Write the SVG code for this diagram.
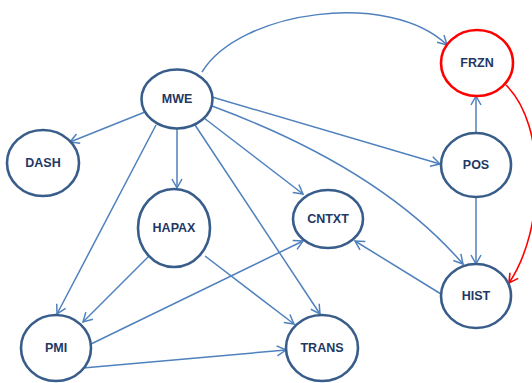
<svg xmlns="http://www.w3.org/2000/svg" width="532" height="383" viewBox="0 0 532 383">
<style>
.n ellipse{fill:#fff;stroke:#385D8A;stroke-width:2.6}
.n.red ellipse{stroke:#FF0000}
.n text{font-family:"Liberation Sans",Arial,sans-serif;font-weight:bold;font-size:12.5px;fill:#1F3864;text-anchor:middle;dominant-baseline:central}
.e path{fill:none;stroke:#4F81BD;stroke-width:1.5;marker-end:url(#a)}
.e path.r{stroke:#FF0000;stroke-width:1.6;marker-end:url(#ar)}
</style>
<defs>
<marker id="a" markerUnits="userSpaceOnUse" markerWidth="12" markerHeight="12" refX="9" refY="5" orient="auto" overflow="visible">
<path d="M0,0 L9,5 L0,10" fill="none" stroke="#4F81BD" stroke-width="1.5"/>
</marker>
<marker id="ar" markerUnits="userSpaceOnUse" markerWidth="12" markerHeight="12" refX="9" refY="5" orient="auto" overflow="visible">
<path d="M0,0 L9,5 L0,10" fill="none" stroke="#FF0000" stroke-width="1.6"/>
</marker>
</defs>
<g id="edges" class="e">
<path d="M202,72 C240,10 390,-10 447,45"/>
<path d="M145,112 L70,142"/>
<path d="M177,128 L177,188"/>
<path d="M156,125 L57,314"/>
<path d="M149,256 L83,322"/>
<path d="M204,118 L303,194"/>
<path d="M195,125 L320,314"/>
<path d="M212,97 L440,164"/>
<path d="M212,106 Q380,168 463,264"/>
<path d="M476,133 L476,96"/>
<path d="M476,197 L476,264"/>
<path class="r" d="M506,85 C547,125 545,230 509,283"/>
<path d="M441,294 L355,241"/>
<path d="M91,344 L303,241"/>
<path d="M83,368 L286,350"/>
<path d="M205,256 L294,324"/>
</g>
<g id="MWE" class="n"><ellipse cx="177" cy="99" rx="35.5" ry="29.5"/><text x="177" y="99">MWE</text></g>
<g id="FRZN" class="n red"><ellipse cx="477" cy="63" rx="36" ry="33"/><text x="477" y="63">FRZN</text></g>
<g id="DASH" class="n"><ellipse cx="43" cy="163" rx="36" ry="33"/><text x="43" y="163">DASH</text></g>
<g id="HAPAX" class="n"><ellipse cx="174" cy="228" rx="36" ry="39"/><text x="174" y="228">HAPAX</text></g>
<g id="CNTXT" class="n"><ellipse cx="328" cy="219" rx="35" ry="29"/><text x="328" y="219">CNTXT</text></g>
<g id="POS" class="n"><ellipse cx="476" cy="165" rx="35" ry="32"/><text x="476" y="165">POS</text></g>
<g id="HIST" class="n"><ellipse cx="476" cy="296" rx="35" ry="32"/><text x="476" y="296">HIST</text></g>
<g id="PMI" class="n"><ellipse cx="56" cy="348" rx="35" ry="33"/><text x="56" y="348">PMI</text></g>
<g id="TRANS" class="n"><ellipse cx="322" cy="348" rx="36" ry="33"/><text x="322" y="348">TRANS</text></g>
</svg>
